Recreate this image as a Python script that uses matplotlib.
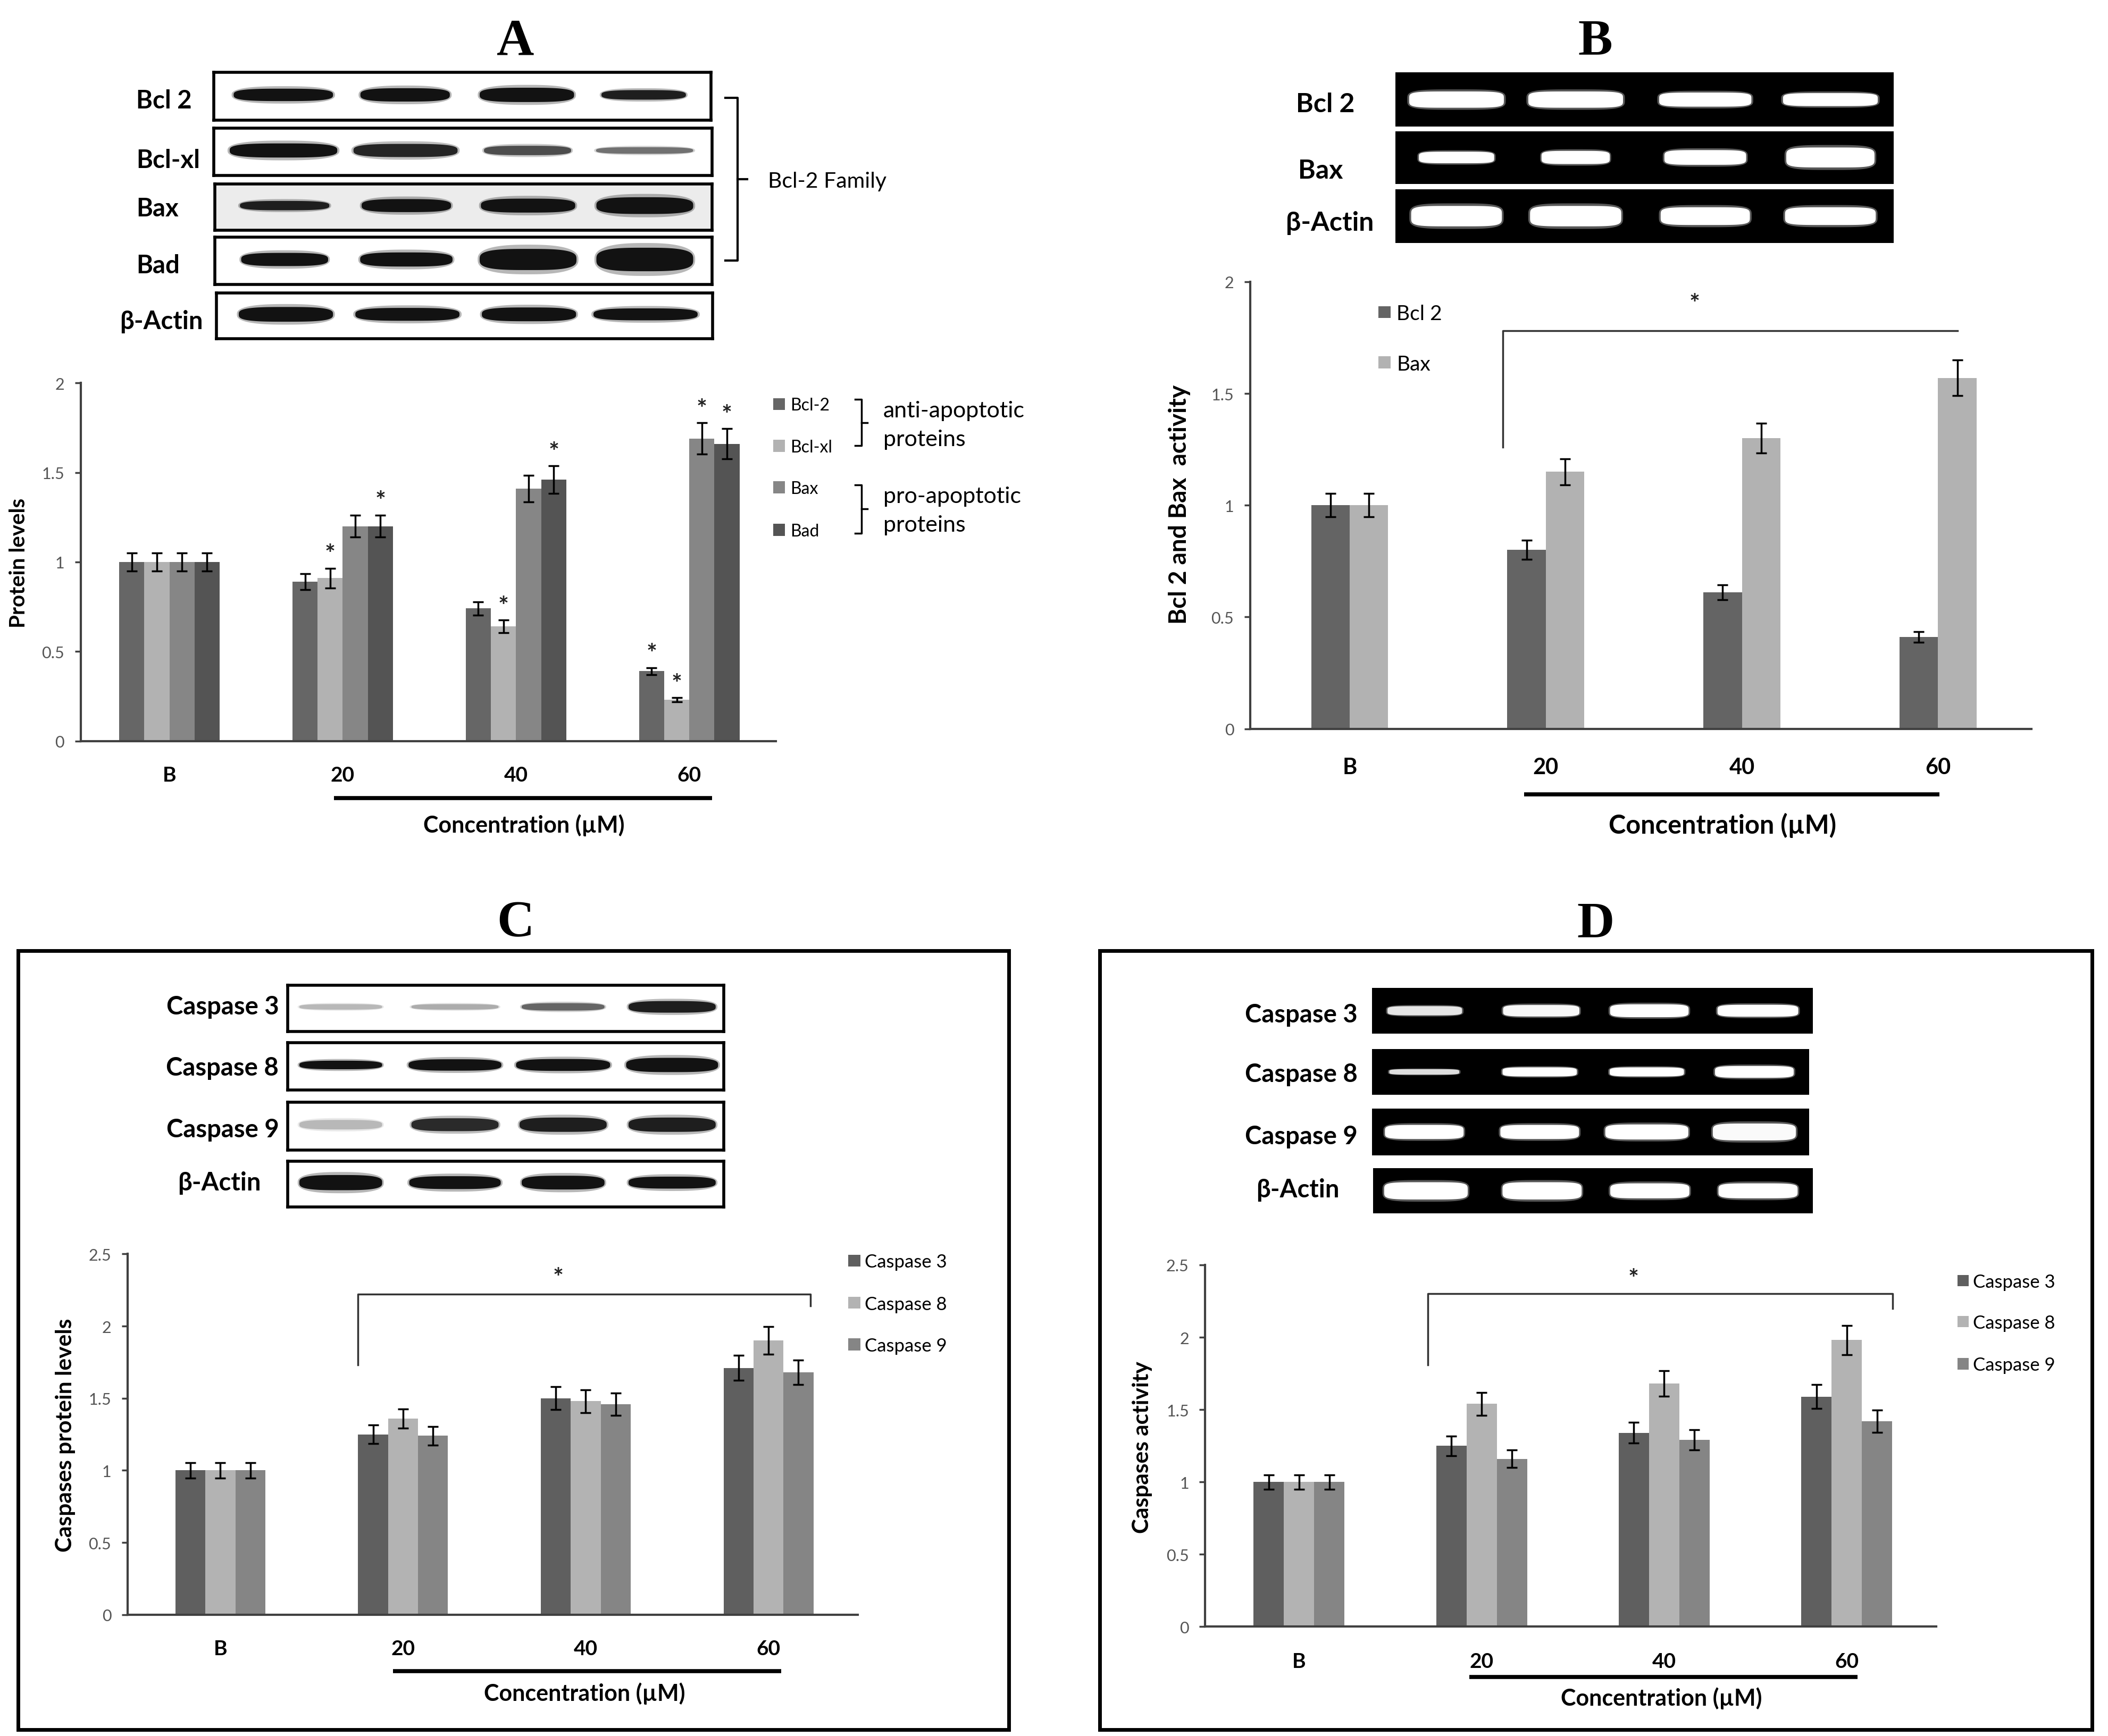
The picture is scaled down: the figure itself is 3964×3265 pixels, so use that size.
import matplotlib
matplotlib.use('Agg')
import matplotlib.pyplot as plt
from matplotlib.patches import Rectangle
import numpy as np

# ---------------- data ----------------
categories = ['B', '20', '40', '60']

# Panel A (western blot densitometry)
a_series = ['Bcl-2', 'Bcl-xl', 'Bax', 'Bad']
a_bcl2 = [1.00, 0.89, 0.74, 0.39]
a_bclxl = [1.00, 0.91, 0.64, 0.23]
a_bax = [1.00, 1.20, 1.41, 1.69]
a_bad = [1.00, 1.20, 1.46, 1.66]
a_bcl2_err = [0.05, 0.045, 0.037, 0.02]
a_bclxl_err = [0.05, 0.055, 0.035, 0.012]
a_bax_err = [0.05, 0.062, 0.074, 0.088]
a_bad_err = [0.05, 0.062, 0.077, 0.085]
a_stars = [[0, 0, 0, 1], [0, 1, 1, 1], [0, 0, 0, 1], [0, 1, 1, 1]]
a_yticks = [0, 0.5, 1, 1.5, 2]

# Panel B (RT-PCR)
b_series = ['Bcl 2', 'Bax']
b_bcl2 = [1.00, 0.80, 0.61, 0.41]
b_bax = [1.00, 1.15, 1.30, 1.57]
b_bcl2_err = [0.052, 0.043, 0.033, 0.024]
b_bax_err = [0.052, 0.058, 0.067, 0.08]
b_yticks = [0, 0.5, 1, 1.5, 2]

# Panel C (caspase protein levels)
c_series = ['Caspase 3', 'Caspase 8', 'Caspase 9']
c_casp3 = [1.00, 1.25, 1.50, 1.71]
c_casp8 = [1.00, 1.36, 1.48, 1.90]
c_casp9 = [1.00, 1.24, 1.46, 1.68]
c_casp3_err = [0.055, 0.065, 0.079, 0.086]
c_casp8_err = [0.055, 0.067, 0.079, 0.096]
c_casp9_err = [0.055, 0.065, 0.077, 0.084]
c_yticks = [0, 0.5, 1, 1.5, 2, 2.5]

# Panel D (caspase activity)
d_series = ['Caspase 3', 'Caspase 8', 'Caspase 9']
d_casp3 = [1.00, 1.25, 1.34, 1.59]
d_casp8 = [1.00, 1.54, 1.68, 1.98]
d_casp9 = [1.00, 1.16, 1.29, 1.42]
d_casp3_err = [0.05, 0.068, 0.072, 0.084]
d_casp8_err = [0.05, 0.079, 0.087, 0.10]
d_casp9_err = [0.05, 0.062, 0.069, 0.076]
d_yticks = [0, 0.5, 1, 1.5, 2, 2.5]

# Blot / gel band descriptions (lane centre, band width, band height, intensity)
a_blot_rows = ['Bcl 2', 'Bcl-xl', 'Bax', 'Bad', 'β-Actin']
a_lanes = [0.14, 0.385, 0.63, 0.865]
a_band_w = [[0.20, 0.18, 0.19, 0.17], [0.216, 0.209, 0.175, 0.195], [0.18, 0.18, 0.19, 0.195],
            [0.175, 0.186, 0.195, 0.195], [0.19, 0.21, 0.19, 0.21]]
a_band_h = [[0.26, 0.28, 0.30, 0.20], [0.30, 0.28, 0.20, 0.14], [0.20, 0.28, 0.30, 0.36],
            [0.28, 0.30, 0.45, 0.50], [0.32, 0.28, 0.30, 0.26]]
a_band_i = [[1, 1, 1, 0.95], [1, 0.92, 0.75, 0.6], [0.95, 1, 1, 1], [1, 1, 1, 1], [1, 1, 1, 1]]

b_gel_rows = ['Bcl 2', 'Bax', 'β-Actin']
b_lanes = [0.123, 0.362, 0.622, 0.873]
b_band_w = [[0.19, 0.19, 0.185, 0.19], [0.151, 0.137, 0.164, 0.177], [0.182, 0.183, 0.179, 0.182]]
b_band_h = [[0.30, 0.30, 0.26, 0.24], [0.22, 0.25, 0.28, 0.38], [0.38, 0.38, 0.33, 0.33]]
b_band_i = [[1, 1, 1, 1], [1, 1, 1, 1], [1, 1, 1, 1]]

c_blot_rows = ['Caspase 3', 'Caspase 8', 'Caspase 9', 'β-Actin']
c_lanes = [0.122, 0.384, 0.632, 0.882]
c_band_w = [[0.19, 0.20, 0.19, 0.20], [0.19, 0.213, 0.216, 0.211], [0.19, 0.20, 0.20, 0.20],
            [0.19, 0.21, 0.19, 0.20]]
c_band_h = [[0.12, 0.12, 0.16, 0.25], [0.18, 0.24, 0.25, 0.30], [0.20, 0.27, 0.30, 0.30],
            [0.33, 0.28, 0.30, 0.26]]
c_band_i = [[0.3, 0.35, 0.65, 0.95], [1, 1, 1, 1], [0.3, 0.9, 0.95, 0.95], [1, 1, 1, 1]]

d_gel_rows = ['Caspase 3', 'Caspase 8', 'Caspase 9', 'β-Actin']
d_lanes = [0.12, 0.384, 0.629, 0.875]
d_band_w = [[0.169, 0.173, 0.178, 0.183], [0.16, 0.17, 0.17, 0.18], [0.18, 0.18, 0.19, 0.19],
            [0.19, 0.18, 0.18, 0.18]]
d_band_h = [[0.20, 0.25, 0.28, 0.26], [0.12, 0.20, 0.20, 0.26], [0.30, 0.30, 0.32, 0.36],
            [0.38, 0.38, 0.33, 0.33]]
d_band_i = [[0.85, 0.95, 1, 1], [0.8, 1, 1, 1], [1, 1, 1, 0.97], [1, 1, 1, 1]]

# ---------------- style ----------------
SANS = ['Lato', 'DejaVu Sans']
SERIF = ['Liberation Serif', 'DejaVu Serif']
a_colors = ['#666666', '#b2b2b2', '#868686', '#545454']
b_colors = ['#646464', '#b2b2b2']
cd_colors = ['#5f5f5f', '#b3b3b3', '#858585']

W, H = 1568.0, 1292.0           # layout units (reference at reduced scale)
PT = 1.82                        # points per layout unit

fig = plt.figure(figsize=(39.64, 32.66), dpi=100)
fig.patch.set_facecolor('white')

ov = fig.add_axes([0, 0, 1, 1])
ov.set_xlim(0, W)
ov.set_ylim(H, 0)
ov.axis('off')
ov.set_zorder(20)
ov.patch.set_alpha(0)


def otext(x, yc, s, size, ha='left', weight='normal', family=SANS, color='black', rot=0):
    if rot == 0:
        cap = size * 0.72 / PT
        ov.text(x, yc + cap / 2, s, fontsize=size, ha=ha, va='baseline', fontweight=weight,
                family=family, color=color)
    else:
        ov.text(x, yc, s, fontsize=size, ha='center', va='center', fontweight=weight,
                family=family, color=color, rotation=rot)


def band_shape(cx, cy, w, h, n):
    t = np.linspace(0, 2 * np.pi, 240)
    c, s = np.cos(t), np.sin(t)
    xs = cx + w / 2 * np.sign(c) * np.abs(c) ** (2 / n)
    ys = cy + h / 2 * np.sign(s) * np.abs(s) ** (2 / n)
    return xs, ys


def blot(x0, y0, x1, y1, lanes, bw, bh, bi, gel=False, bg='white'):
    ax = fig.add_axes([x0 / W, 1 - y1 / H, (x1 - x0) / W, (y1 - y0) / H])
    ax.set_xlim(0, 1)
    ax.set_ylim(0, 1)
    ax.set_xticks([])
    ax.set_yticks([])
    if gel:
        ax.set_facecolor('black')
        for sp in ax.spines.values():
            sp.set_visible(False)
    else:
        ax.set_facecolor(bg)
        for sp in ax.spines.values():
            sp.set_linewidth(4)
            sp.set_color('black')
    for cx, w, h, lv in zip(lanes, bw, bh, bi):
        if gel:
            col = str(0.35 + 0.65 * lv)
            xs, ys = band_shape(cx, 0.5, w * 1.04, h * 1.25, 4)
            ax.fill(xs, ys, color=col, alpha=0.35, lw=0)
            xs, ys = band_shape(cx, 0.5, w, h, 5)
            ax.fill(xs, ys, color=col, lw=0)
        else:
            col = str(1 - 0.93 * lv)
            xs, ys = band_shape(cx, 0.53, w * 1.04, h * 1.4, 2.6)
            ax.fill(xs, ys, color=col, alpha=0.3, lw=0)
            xs, ys = band_shape(cx, 0.53, w, h, 3.2)
            ax.fill(xs, ys, color=col, lw=0)
    return ax


def chart(axis_x, cat0, sp, xmax, y0, ytop, ymax, yticks, catpad, catsize=28):
    xmin = (axis_x - cat0) / sp
    x1 = cat0 + xmax * sp
    ax = fig.add_axes([axis_x / W, 1 - y0 / H, (x1 - axis_x) / W, (y0 - ytop) / H])
    ax.set_xlim(xmin, xmax)
    ax.set_ylim(0, ymax)
    for s in ['top', 'right']:
        ax.spines[s].set_visible(False)
    for s in ['left', 'bottom']:
        ax.spines[s].set_linewidth(3)
        ax.spines[s].set_color('#404040')
    ax.set_yticks(yticks)
    ax.set_yticklabels([f'{v:g}' for v in yticks], family=SANS, fontsize=22, color='#555555')
    ax.tick_params(axis='y', direction='out', length=8, width=2.5, color='#404040', pad=14)
    ax.set_xticks(range(len(categories)))
    ax.set_xticklabels(categories, family=SANS, fontsize=catsize, fontweight='bold')
    ax.tick_params(axis='x', length=0, pad=catpad)
    for lbl in ax.get_xticklabels():
        lbl.set_va('baseline')
    ax.patch.set_alpha(0)
    return ax


def bars(ax, series_vals, series_err, colors, w):
    n = len(series_vals)
    x = np.arange(len(categories))
    out = []
    for i, (v, e, c) in enumerate(zip(series_vals, series_err, colors)):
        off = (i - (n - 1) / 2) * w
        ax.bar(x + off, v, w, color=c, lw=0, zorder=2)
        ax.errorbar(x + off, v, yerr=e, fmt='none', ecolor='black', elinewidth=2.5,
                    capsize=7, capthick=2.5, zorder=3)
        out.append(x + off)
    return out


STAR = dict(ha='center', va='center', fontsize=34, fontweight='bold', family=SANS, color='#222222')

# ---------------- titles ----------------
for lab, (x, y) in zip(['A', 'B', 'C', 'D'],
                       [(383.3, 26.8), (1186.7, 26.8), (383.3, 683), (1186.7, 683.8)]):
    otext(x, y, lab, 70, ha='center', weight='bold', family=SERIF)

# ================= Panel A =================
a_rows_box = [(159, 528.7, 54.3, 89.8), (159, 529.5, 95.9, 130.9), (160, 529.5, 137.1, 171.7),
              (160, 529.5, 177, 212), (161, 530, 218.2, 252.4)]
a_label_pos = [(101.4, 74.1), (101.4, 118.2), (101.4, 154.4), (101.4, 196.8), (89, 238)]
for r, (bx, lp) in enumerate(zip(a_rows_box, a_label_pos)):
    blot(bx[0], bx[2], bx[1], bx[3], a_lanes, a_band_w[r], a_band_h[r], a_band_i[r],
         bg='#ececec' if a_blot_rows[r] == 'Bax' else 'white')
    otext(lp[0], lp[1], a_blot_rows[r], 34, weight='bold')
# family bracket
ov.plot([539.7, 548.6, 548.6, 539.7], [73.3, 73.3, 194.3, 194.3], color='black', lw=3)
ov.plot([548.6, 555.6], [133.8, 133.8], color='black', lw=3)
otext(571, 133.8, 'Bcl-2 Family', 29.5)

axA = chart(60, 126, 128.9, 3.5, 551.7, 285.3, 2, a_yticks, catpad=54)
a_vals = [a_bcl2, a_bclxl, a_bax, a_bad]
a_errs = [a_bcl2_err, a_bclxl_err, a_bax_err, a_bad_err]
xsA = bars(axA, a_vals, a_errs, a_colors, 0.145)
for xs, v, e, st in zip(xsA, a_vals, a_errs, a_stars):
    for xi, vi, ei, si in zip(xs, v, e, st):
        if si:
            axA.text(xi, vi + ei + 0.075, '*', clip_on=False, **STAR)
otext(14, 419.1, 'Protein levels', 29, weight='bold', rot=90)
ov.plot([248.3, 529.7], [594.1, 594.1], color='black', lw=5.5, solid_capstyle='butt')
otext(389.8, 613.4, 'Concentration (µM)', 31, ha='center', weight='bold')
# legend A
for name, c, yc in zip(a_series, a_colors, [301, 332, 363, 394.5]):
    ov.add_patch(Rectangle((575, yc - 4.5), 9, 9, color=c, lw=0))
    otext(588, yc, name, 23)
for ytop_, ybot_ in [(297.5, 332), (361, 397)]:
    ov.plot([636, 641, 641, 636], [ytop_, ytop_, ybot_, ybot_], color='black', lw=2.5)
    ov.plot([641, 645], [(ytop_ + ybot_) / 2] * 2, color='black', lw=2.5)
otext(657, 304.6, 'anti-apoptotic', 31)
otext(657, 325.6, 'proteins', 31)
otext(657, 368, 'pro-apoptotic', 31)
otext(657, 389.6, 'proteins', 31)

# ================= Panel B =================
b_rows_y = [(54.3, 94.7), (98, 137.1), (141.2, 181.2)]
b_label_pos = [(963.9, 76.2), (965.4, 125.6), (956.4, 164.7)]
for r, (yy, lp) in enumerate(zip(b_rows_y, b_label_pos)):
    blot(1037.8, yy[0], 1408.6, yy[1], b_lanes, b_band_w[r], b_band_h[r], b_band_i[r], gel=True)
    otext(lp[0], lp[1], b_gel_rows[r], 36, weight='bold')

axB = chart(929.9, 1003.9, 145.9, 3.476, 542.6, 210, 2, b_yticks, catpad=61, catsize=30)
bars(axB, [b_bcl2, b_bax], [b_bcl2_err, b_bax_err], b_colors, 0.196)
axB.plot([0.78, 0.78, 3.10], [1.26, 1.78, 1.78], color='#333333', lw=2.5, clip_on=False)
axB.text(1.76, 1.90, '*', **STAR)
otext(877.4, 375.5, 'Bcl 2 and Bax  activity', 33, weight='bold', rot=90)
ov.plot([1133.8, 1442.6], [591.6, 591.6], color='black', lw=5.5, solid_capstyle='butt')
otext(1281.2, 613.4, 'Concentration (µM)', 35, ha='center', weight='bold')
for name, c, yc in zip(b_series, b_colors, [232.6, 270.1]):
    ov.add_patch(Rectangle((1025.3, yc - 4.5), 9, 9, color=c, lw=0))
    otext(1038.8, yc, name, 28)

# ================= Panel C =================
ov.add_patch(Rectangle((13.5, 707.7), 750.5 - 13.5, 1287.4 - 707.7, fill=False, lw=5, ec='black'))
c_rows_y = [(733.3, 767.8), (776.1, 811.5), (820.5, 856), (864.2, 898.4)]
c_label_pos = [(207.4, 748.1), (207.4, 793.4), (207.4, 839.5), (193.9, 879)]
for r, (yy, lp) in enumerate(zip(c_rows_y, c_label_pos)):
    blot(213.9, yy[0], 538.2, yy[1], c_lanes, c_band_w[r], c_band_h[r], c_band_i[r])
    otext(lp[0], lp[1], c_blot_rows[r], 34, ha='right', weight='bold')

axC = chart(94.9, 163.9, 135.9, 3.49, 1201.8, 933.3, 2.5, c_yticks, catpad=54)
bars(axC, [c_casp3, c_casp8, c_casp9], [c_casp3_err, c_casp8_err, c_casp9_err], cd_colors, 0.164)
axC.plot([0.754, 0.754, 3.23, 3.23], [1.73, 2.22, 2.22, 2.14], color='#333333', lw=2.5,
         clip_on=False)
axC.text(1.85, 2.33, '*', **STAR)
otext(48.5, 1068, 'Caspases protein levels', 30.5, weight='bold', rot=90)
ov.plot([292.3, 581.1], [1243.8, 1243.8], color='black', lw=5.5, solid_capstyle='butt')
otext(434.7, 1259.4, 'Concentration (µM)', 31, ha='center', weight='bold')
for name, c, yc in zip(c_series, cd_colors, [938.3, 969.6, 1000.5]):
    ov.add_patch(Rectangle((631, yc - 4.5), 9, 9, color=c, lw=0))
    otext(643, yc, name, 25)

# ================= Panel D =================
ov.add_patch(Rectangle((818, 707.7), 1556 - 818, 1287.4 - 707.7, fill=False, lw=5, ec='black'))
d_rows = [(1020.4, 1348.6, 735.3, 769.5), (1020.4, 1345.6, 781, 814.8),
          (1020.4, 1345.6, 825.1, 860.1), (1021.4, 1348.6, 869.5, 903.3)]
d_label_pos = [(1009.9, 753.8), (1009.9, 798.3), (1009.9, 844.4), (996.4, 884)]
for r, (bx, lp) in enumerate(zip(d_rows, d_label_pos)):
    blot(bx[0], bx[2], bx[1], bx[3], d_lanes, d_band_w[r], d_band_h[r], d_band_i[r], gel=True)
    otext(lp[0], lp[1], d_gel_rows[r], 34, ha='right', weight='bold')

axD = chart(896.5, 966.3, 135.8, 3.49, 1210.6, 941.5, 2.5, d_yticks, catpad=55)
bars(axD, [d_casp3, d_casp8, d_casp9], [d_casp3_err, d_casp8_err, d_casp9_err], cd_colors, 0.166)
axD.plot([0.706, 0.706, 3.25, 3.25], [1.81, 2.30, 2.30, 2.20], color='#333333', lw=2.5,
         clip_on=False)
axD.text(1.83, 2.40, '*', **STAR)
otext(849.5, 1076.7, 'Caspases activity', 30.5, weight='bold', rot=90)
ov.plot([1093.1, 1381.8], [1247.9, 1247.9], color='black', lw=5.5, solid_capstyle='butt')
otext(1235.9, 1263, 'Concentration (µM)', 31, ha='center', weight='bold')
for name, c, yc in zip(d_series, cd_colors, [953.2, 983.6, 1015]):
    ov.add_patch(Rectangle((1455.9, yc - 4.25), 8.5, 8.5, color=c, lw=0))
    otext(1467.6, yc, name, 25)

fig.savefig('out.png', dpi=100, facecolor='white')
